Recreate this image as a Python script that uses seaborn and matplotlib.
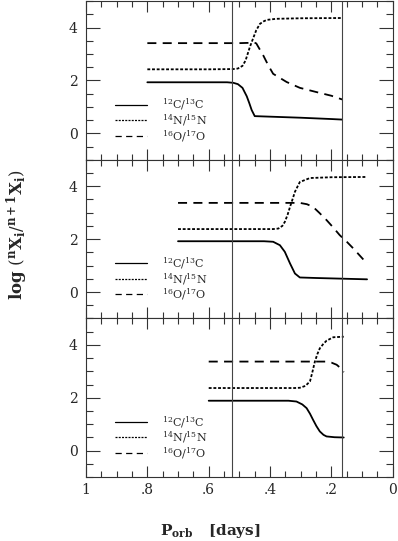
import matplotlib
matplotlib.use("Agg")
import matplotlib.pyplot as plt
import seaborn as sns
from matplotlib.ticker import MultipleLocator, FuncFormatter

# ---------------------------------------------------------------------------
# Data: log isotope ratios vs orbital period
# ---------------------------------------------------------------------------

# panel 1
C1_x = [0.80, 0.60, 0.54, 0.52, 0.505, 0.49, 0.476, 0.468, 0.46, 0.45, 0.40, 0.30, 0.20, 0.165]
C1_y = [1.93, 1.93, 1.93, 1.91, 1.86, 1.72, 1.40, 1.15, 0.88, 0.65, 0.63, 0.59, 0.54, 0.52]
N1_x = [0.80, 0.60, 0.52, 0.505, 0.49, 0.48, 0.466, 0.455, 0.445, 0.433, 0.42, 0.41, 0.38, 0.30, 0.165]
N1_y = [2.42, 2.42, 2.43, 2.45, 2.55, 2.75, 3.26, 3.60, 3.90, 4.14, 4.24, 4.29, 4.33, 4.35, 4.36]
O1_x = [0.80, 0.60, 0.50, 0.47, 0.455, 0.445, 0.435, 0.422, 0.405, 0.39, 0.346, 0.303, 0.249, 0.20, 0.165]
O1_y = [3.41, 3.41, 3.41, 3.42, 3.45, 3.40, 3.20, 2.94, 2.55, 2.25, 1.94, 1.72, 1.56, 1.42, 1.28]

# panel 2
C2_x = [0.70, 0.50, 0.42, 0.39, 0.368, 0.352, 0.335, 0.319, 0.303, 0.25, 0.15, 0.084]
C2_y = [1.92, 1.92, 1.92, 1.90, 1.77, 1.52, 1.08, 0.70, 0.55, 0.53, 0.50, 0.48]
N2_x = [0.70, 0.50, 0.39, 0.373, 0.36, 0.352, 0.343, 0.335, 0.327, 0.319, 0.31, 0.303, 0.27, 0.20, 0.084]
N2_y = [2.38, 2.38, 2.38, 2.40, 2.50, 2.65, 2.92, 3.22, 3.50, 3.79, 4.00, 4.16, 4.31, 4.34, 4.35]
O2_x = [0.70, 0.50, 0.33, 0.303, 0.28, 0.26, 0.24, 0.216, 0.195, 0.173, 0.15, 0.129, 0.089]
O2_y = [3.37, 3.37, 3.37, 3.37, 3.32, 3.22, 3.00, 2.72, 2.45, 2.15, 1.90, 1.65, 1.14]

# panel 3
C3_x = [0.60, 0.45, 0.34, 0.314, 0.295, 0.281, 0.27, 0.26, 0.249, 0.238, 0.226, 0.216, 0.19, 0.16]
C3_y = [1.89, 1.89, 1.89, 1.86, 1.75, 1.61, 1.40, 1.17, 0.93, 0.73, 0.60, 0.54, 0.51, 0.50]
N3_x = [0.60, 0.45, 0.32, 0.303, 0.285, 0.27, 0.262, 0.254, 0.246, 0.238, 0.227, 0.216, 0.194, 0.16]
N3_y = [2.37, 2.37, 2.37, 2.38, 2.45, 2.62, 2.98, 3.37, 3.65, 3.87, 4.03, 4.16, 4.29, 4.31]
O3_x = [0.60, 0.45, 0.30, 0.22, 0.20, 0.183, 0.17, 0.16]
O3_y = [3.37, 3.37, 3.37, 3.37, 3.33, 3.25, 3.12, 2.97]

PANELS = [
    [(C1_x, C1_y), (N1_x, N1_y), (O1_x, O1_y)],
    [(C2_x, C2_y), (N2_x, N2_y), (O2_x, O2_y)],
    [(C3_x, C3_y), (N3_x, N3_y), (O3_x, O3_y)],
]
LABELS = [r"$^{12}$C/$^{13}$C", r"$^{14}$N/$^{15}$N", r"$^{16}$O/$^{17}$O"]
STYLES = ["-", (0, (1.6, 1.0)), (0, (5, 3.5))]

# vertical reference periods
VLINES = [0.524, 0.166]

sns.set_style("ticks")
plt.rcParams["font.family"] = ["DejaVu Serif"]
plt.rcParams["mathtext.fontset"] = "dejavuserif"

fig, axes = plt.subplots(3, 1, figsize=(3.98, 5.41), dpi=100, sharex=True)
fig.subplots_adjust(left=0.216, right=0.987, top=0.998, bottom=0.118, hspace=0)

for i, ax in enumerate(axes):
    for (xs, ys), style, label in zip(PANELS[i], STYLES, LABELS):
        sns.lineplot(x=xs, y=ys, ax=ax, color="black", lw=1.3,
                     linestyle=style, label=label, sort=False, estimator=None)
    for v in VLINES:
        ax.axvline(v, color="#444444", lw=0.8)

    ax.set_xlim(1, 0)
    ax.set_ylim(-1, 5)
    ax.yaxis.set_major_locator(MultipleLocator(2))
    ax.yaxis.set_minor_locator(MultipleLocator(0.5))
    ax.xaxis.set_major_locator(MultipleLocator(0.2))
    ax.xaxis.set_minor_locator(MultipleLocator(0.05))
    ax.tick_params(which="both", direction="in", top=True, right=True,
                   color="#333333", width=0.8, labelsize=10)
    ax.tick_params(axis="y", which="major", length=10, pad=6)
    ax.tick_params(axis="y", which="minor", length=5)
    ax.tick_params(axis="x", which="major", length=8, pad=4)
    ax.tick_params(axis="x", which="minor", length=4.5)
    for sp in ax.spines.values():
        sp.set_color("#333333")
        sp.set_linewidth(0.8)

    # legend rows sit near y = 1, 0.5, 0 in data units
    leg = ax.legend(loc="center left", bbox_to_anchor=(0.078, 0.25), frameon=False,
                    handlelength=2.8, handletextpad=1.4, labelspacing=0.0,
                    fontsize=8, borderpad=0)
    for h in leg.get_lines():
        h.set_linewidth(0.9)
    ax.set_xlabel("")
    ax.set_ylabel("")


def fmt_period(v, pos):
    s = f"{v:.1f}"
    if s in ("1.0", "0.0"):
        return s[0]
    return s.lstrip("0")


axes[-1].xaxis.set_major_formatter(FuncFormatter(fmt_period))

fig.text(17 / 398, 1 - 235 / 541,
         r"log $(^{\mathbf{n}}\mathbf{X}_{\mathbf{i}}/^{\mathbf{n+1}}\mathbf{X}_{\mathbf{i}})$",
         rotation=90, ha="center", va="center", fontsize=12, fontweight="bold")
fig.text(210 / 398, 1 - 531 / 541, r"$\mathbf{P_{orb}}$   [days]",
         ha="center", va="center", fontsize=11, fontweight="bold")

fig.savefig("out.png", dpi=100)
